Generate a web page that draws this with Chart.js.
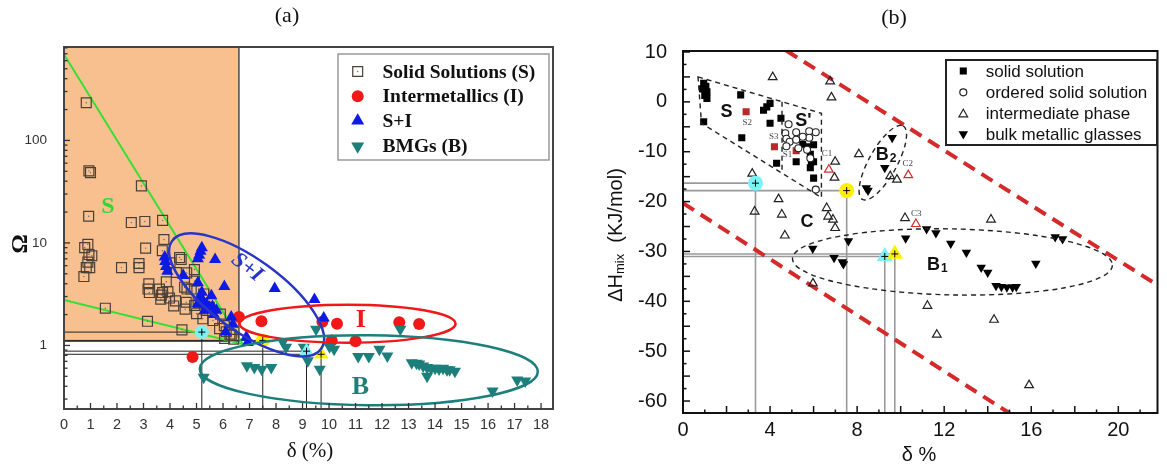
<!DOCTYPE html>
<html><head><meta charset="utf-8">
<script src="https://cdn.jsdelivr.net/npm/chart.js@4"></script>
<style>
body{margin:0;background:#fff;width:1167px;height:466px;overflow:hidden;position:relative}
canvas{position:absolute;top:0}
#ca{left:0}#cb{left:580px}
</style></head><body>
<canvas id="ca" width="580" height="466"></canvas>
<canvas id="cb" width="587" height="466"></canvas>
<script>
// ---------------- Panel (a) data ----------------
const aSolid = [[0.84,233],[0.94,50.5],[1.0,48.5],[2.92,36],[0.93,18.2],[2.54,15.8],[3.05,16.2],[3.72,16.6],[3.77,10.8],[3.08,8.9],[3.71,8.4],[4.36,7.2],[0.9,9.7],[0.78,9.0],[0.94,7.7],[1.05,7.5],[0.9,6.5],[0.97,5.75],[0.84,5.75],[0.75,4.7],[2.17,5.75],[2.83,6.3],[2.83,5.75],[1.56,2.31],[3.15,1.72],[4.45,1.42],[3.2,4.0],[3.17,3.55],[3.6,3.55],[3.67,3.1],[3.92,3.35],[3.98,2.9],[3.86,4.18],[4.55,3.7],[4.24,5.15],[4.61,2.64],[4.93,2.45],[5.0,2.04],[5.37,2.19],[5.24,1.82],[5.62,1.75],[5.87,1.46],[6.12,1.36],[6.06,1.17],[6.31,1.26],[4.42,6.9],[4.0,6.4],[4.92,5.5],[4.64,3.55],[4.21,2.72],[4.14,2.43],[4.57,2.26],[5.48,2.35],[5.9,2.02],[6.05,1.56],[6.26,1.29],[6.4,1.15],[3.72,3.28],[3.65,2.83],[3.22,3.28],[4.63,5.1],[4.92,4.25],[4.8,3.55],[5.27,3.18],[5.06,2.62]];
const aInter = [[6.6,1.9],[7.45,1.72],[9.75,1.7],[10.3,1.63],[12.65,1.68],[13.4,1.62],[10.1,1.12],[11.0,1.1],[4.85,0.77]];
const aSI = [[5.2,9.0],[5.15,8.3],[5.1,7.6],[5.05,7.0],[3.8,7.3],[3.82,6.6],[3.85,5.9],[3.9,5.3],[5.7,6.9],[4.5,4.8],[5.05,4.1],[6.05,3.75],[7.95,3.6],[9.45,2.8],[9.8,1.85],[5.12,2.96],[5.24,2.74],[5.37,2.55],[5.49,2.36],[5.05,2.55],[5.31,2.2],[5.56,3.06],[5.2,3.3],[5.6,2.4],[5.75,2.2],[6.31,1.89],[6.37,1.61],[6.1,1.35],[6.93,1.07],[5.65,2.0],[6.88,1.21]];
const aBMG = [[5.27,0.49],[6.9,0.635],[7.18,0.61],[7.46,0.585],[7.82,0.61],[8.26,1.08],[8.38,0.96],[9.05,0.96],[9.2,0.71],[9.51,1.44],[9.65,0.585],[10.19,0.92],[10.02,0.97],[11.1,0.78],[11.5,0.78],[11.9,0.92],[12.2,0.79],[12.69,1.44],[13.12,0.68],[13.3,0.67],[13.4,0.66],[13.55,0.63],[13.7,0.61],[13.85,0.6],[14.0,0.6],[14.15,0.59],[14.3,0.6],[14.45,0.58],[14.55,0.58],[14.75,0.56],[13.7,0.5],[16.17,0.36],[17.1,0.46],[17.4,0.45]];
const aHiCircle = [[5.2,1.35],[7.5,1.12]];
const aHiTriangle = [[9.15,0.88],[9.7,0.82]];
const aHiColors = ['#7DF2F5','#FFF000'];
const aGreenLine = [[0,690],[6.75,1.03],[0,2.78],[0,690]];
const aXTicks = [0,1,2,3,4,5,6,7,8,9,10,11,12,13,14,15,16,17,18];
const aYTicks = [1,10,100];
const aLegend = ['Solid Solutions (S)','Intermetallics (I)','S+I','BMGs (B)'];

// ---------------- Panel (b) data ----------------
const bSolid = [[0.95,3.7],[1.05,3.1],[0.9,2.6],[1.1,2.0],[1.0,1.3],[1.1,0.7],[0.95,-4.0],[2.65,1.4],[2.7,-7.2],[3.7,-1.7],[3.85,-1.0],[4.0,-0.3],[4.0,-4.3],[4.5,-3.3],[4.3,-12.3],[5.2,-12.0],[5.5,-8.5],[6.0,-8.6],[5.85,-10.5],[5.9,-12.0],[5.85,-13.2],[6.0,-15.3],[6.0,-12.0],[5.7,-9.0]];
const bSolidRed = [[2.9,-2.0],[4.2,-9.0],[5.2,-9.8]];
const bOrdered = [[4.85,-4.5],[4.7,-6.3],[5.2,-6.1],[4.75,-7.4],[4.9,-8.0],[5.2,-7.6],[5.8,-5.9],[6.1,-6.1],[5.8,-7.2],[5.7,-9.6],[5.85,-11.3],[6.1,-17.6],[4.75,-8.9],[5.3,-9.3],[5.5,-7.0]];
const bInter = [[4.12,4.96],[6.76,4.1],[6.82,0.9],[8.08,-10.5],[6.99,-12.0],[6.96,-15.2],[9.52,-14.9],[9.83,-15.6],[3.18,-14.4],[3.29,-22.0],[4.39,-19.5],[4.54,-22.6],[4.68,-26.8],[6.6,-21.3],[6.67,-23.0],[6.89,-23.6],[6.99,-25.3],[10.2,-23.3],[14.15,-23.6],[5.97,-36.4],[11.23,-40.9],[11.66,-46.7],[14.29,-43.7],[15.9,-56.8]];
const bInterRed = [[6.7,-13.6],[10.35,-14.7],[10.7,-24.5]];
const bBMG = [[9.61,-7.2],[9.27,-13.2],[8.42,-17.3],[8.5,-17.8],[5.96,-29.4],[6.94,-31.25],[7.32,-32.1],[7.37,-32.5],[7.6,-27.9],[10.23,-27.35],[11.19,-25.5],[11.62,-26.3],[12.3,-28.4],[13.02,-30.2],[13.7,-33.2],[14.0,-34.2],[14.38,-36.9],[14.63,-37.1],[14.88,-37.2],[15.14,-37.2],[15.31,-37.1],[16.21,-32.4],[17.1,-27.1],[17.44,-27.5]];
const bHiCircle = [[3.33,-16.3],[7.52,-17.8]];
const bHiTriangle = [[9.27,-31.0],[9.73,-30.5]];
const bHiColors = ['#7DF2F5','#FFF000'];
const bUpperLine = [[4.74,10.3],[22,-37.3]];
const bLowerLine = [[0,-20.3],[15.0,-62.45]];
const bXTicks = [0,4,8,12,16,20];
const bYTicks = [10,0,-10,-20,-30,-40,-50,-60];
const bLegend = ['solid solution','ordered solid solution','intermediate phase','bulk metallic glasses'];

const pts = a => a.map(([x,y]) => ({x,y}));
const SERIF = '"Liberation Serif", "DejaVu Serif", serif';
const SANS = '"Liberation Sans", Arial, sans-serif';
Chart.defaults.font.family = SANS;

// helpers
function P(chart, x, y){ return [chart.scales.x.getPixelForValue(x), chart.scales.y.getPixelForValue(y)]; }
function line(ctx,x1,y1,x2,y2){ ctx.beginPath(); ctx.moveTo(x1,y1); ctx.lineTo(x2,y2); ctx.stroke(); }
function text(ctx,s,x,y,font,color,align,base){ ctx.font=font; ctx.fillStyle=color; ctx.textAlign=align||'center'; ctx.textBaseline=base||'middle'; ctx.fillText(s,x,y); }
function marker(ctx, style, x, y, r, fill, stroke, lw){
  ctx.save(); ctx.beginPath();
  if(style==='rect'){ const s=Math.SQRT1_2*r; ctx.rect(x-s,y-s,2*s,2*s); }
  else if(style==='circle'){ ctx.arc(x,y,r,0,Math.PI*2); }
  else { const down = style==='down'; let a = down?Math.PI:0;
    for(let i=0;i<3;i++){ const px=x+Math.sin(a)*r, py=y-Math.cos(a)*r; i?ctx.lineTo(px,py):ctx.moveTo(px,py); a+=2*Math.PI/3; }
    ctx.closePath(); }
  if(fill){ ctx.fillStyle=fill; ctx.fill(); }
  if(stroke){ ctx.strokeStyle=stroke; ctx.lineWidth=lw||1; ctx.stroke(); }
  ctx.restore();
}

// ---------------- Chart A ----------------
const decorA = {
  id:'decorA',
  beforeDatasetsDraw(chart){
    const ctx=chart.ctx, a=chart.chartArea;
    const [bx,by]=P(chart,6.6,1.1);
    ctx.save();
    ctx.fillStyle='#F8C08F';
    ctx.fillRect(a.left,a.top,bx-a.left,by-a.top);
    ctx.strokeStyle='#555'; ctx.lineWidth=1.6;
    ctx.beginPath(); ctx.moveTo(bx,a.top); ctx.lineTo(bx,by); ctx.lineTo(a.left,by); ctx.stroke();
    ctx.strokeStyle='#222'; ctx.lineWidth=1;
    aHiCircle.concat(aHiTriangle).forEach(([x,y])=>{ const [X,Y]=P(chart,x,y); line(ctx,a.left,Y,X,Y); line(ctx,X,Y,X,a.bottom); });
    ctx.restore();
  },
  afterDatasetsDraw(chart){
    const ctx=chart.ctx, a=chart.chartArea;
    ctx.save();
    const ell=(cx,cy,rx,ry,rot,col)=>{ const [X,Y]=P(chart,cx,cy); ctx.strokeStyle=col; ctx.lineWidth=2.5; ctx.beginPath(); ctx.ellipse(X,Y,rx,ry,rot*Math.PI/180,0,Math.PI*2); ctx.stroke(); };
    ell(6.89,3.11,92,36,36,'#2836C8');
    ell(10.7,1.63,108,19,0,'#F01818');
    ell(11.5,0.574,169,35,0.5,'#1C7F7B');
    // region labels
    let [X,Y]=P(chart,1.66,22.6); text(ctx,'S',X,Y,'bold 24px '+SERIF,'#33D633');
    [X,Y]=P(chart,11.2,1.76); text(ctx,'I',X,Y,'bold 26px '+SERIF,'#F01818');
    [X,Y]=P(chart,11.18,0.39); text(ctx,'B',X,Y,'bold 26px '+SERIF,'#1C7F7B');
    [X,Y]=P(chart,6.9,5.74);
    ctx.save(); ctx.translate(X,Y); ctx.rotate(38*Math.PI/180); text(ctx,'S+I',0,0,'italic bold 22px '+SERIF,'#2836C8'); ctx.restore();
    // frame
    ctx.strokeStyle='#444'; ctx.lineWidth=2;
    ctx.strokeRect(a.left,a.top,a.right-a.left,a.bottom-a.top);
    // ticks
    ctx.strokeStyle='#333'; ctx.lineWidth=1.3;
    for(let v=0; v<=18.001; v+=0.5){ const x=chart.scales.x.getPixelForValue(v); const L=(Math.abs(v-Math.round(v))<1e-6)?6:3.5; if(v>0) line(ctx,x,a.bottom,x,a.bottom-L); }
    for(let d=-1; d<=2; d++){ for(let m=1;m<=9;m++){ const v=m*Math.pow(10,d); if(v<0.24||v>815) continue; const y=chart.scales.y.getPixelForValue(v); line(ctx,a.left,y,a.left+(m===1?6:3.5),y); } }
    // legend
    ctx.fillStyle='#fff'; ctx.fillRect(338,54,211,106);
    ctx.strokeStyle='#9a9a9a'; ctx.lineWidth=1.5; ctx.strokeRect(338,54,211,106);
    const ly=[71.5,96.3,120.8,146.3], lx=357.7;
    marker(ctx,'rect',lx,ly[0],7,null,'#4a4038',1.2); marker(ctx,'circle',lx,ly[0],0.7,'#666');
    marker(ctx,'circle',lx,ly[1],6,'#F01818');
    marker(ctx,'triangle',lx,ly[2],7.5,'#0D1AE6');
    marker(ctx,'down',lx,ly[3],7.5,'#1C7F7B');
    aLegend.forEach((s,i)=>text(ctx,s,382.5,ly[i]+1,'bold 19.5px '+SERIF,'#111','left'));
    // titles
    text(ctx,'(a)',287,16,'22px '+SERIF,'#111');
    text(ctx,'δ (%)',310,451,'21px '+SERIF,'#111');
    ctx.save(); ctx.translate(21,244); ctx.rotate(-Math.PI/2); text(ctx,'Ω',0,0,'bold 24px '+SERIF,'#111'); ctx.restore();
    ctx.restore();
  }
};

new Chart(document.getElementById('ca'), {
  type:'scatter',
  data:{datasets:[
    {data:pts(aHiCircle.concat(aHiTriangle)), pointStyle:'cross', pointRadius:3.5, borderColor:'#000', borderWidth:1},
    {data:pts(aHiTriangle), pointStyle:'triangle', pointRadius:8.5, backgroundColor:aHiColors, borderWidth:0},
    {data:pts(aHiCircle), pointStyle:'circle', pointRadius:7, backgroundColor:aHiColors, borderWidth:0},
    {data:pts(aBMG), pointStyle:'triangle', rotation:180, pointRadius:7, backgroundColor:'#1C7F7B', borderWidth:0},
    {data:pts(aSI), pointStyle:'triangle', pointRadius:7, backgroundColor:'#0D1AE6', borderWidth:0},
    {data:pts(aInter), pointStyle:'circle', pointRadius:6, backgroundColor:'#F01818', borderWidth:0},
    {data:pts(aSolid), pointStyle:'circle', pointRadius:0.7, backgroundColor:'#666', borderWidth:0},
    {data:pts(aSolid), pointStyle:'rect', pointRadius:7, backgroundColor:'rgba(0,0,0,0)', borderColor:'#4a4038', borderWidth:1.2},
    {data:pts(aGreenLine), showLine:true, pointRadius:0, borderColor:'#33E033', borderWidth:2, fill:false, tension:0}
  ]},
  options:{
    responsive:false, animation:false, events:[],
    layout:{padding:{top:47,right:27,left:0,bottom:0}},
    plugins:{legend:{display:false},tooltip:{enabled:false}},
    scales:{
      x:{type:'linear',min:0,max:18.45,grid:{display:false},border:{display:false},
         afterBuildTicks(s){s.ticks=aXTicks.map(v=>({value:v}));},
         afterFit(s){s.height=57;},
         ticks:{font:{size:14.5},color:'#333',padding:-1,maxRotation:0,autoSkip:false}},
      y:{type:'logarithmic',min:0.24,max:815,grid:{display:false},border:{display:false},
         afterBuildTicks(s){s.ticks=aYTicks.map(v=>({value:v}));},
         afterFit(s){s.width=64;},
         ticks:{font:{size:13.5},color:'#333',padding:9,autoSkip:false,callback:v=>String(v)}}
    }
  },
  plugins:[decorA]
});

// ---------------- Chart B ----------------
const decorB = {
  id:'decorB',
  beforeDatasetsDraw(chart){
    const ctx=chart.ctx, a=chart.chartArea;
    ctx.save();
    ctx.strokeStyle='#9a9a9a'; ctx.lineWidth=1.6;
    bHiCircle.concat(bHiTriangle).forEach(([x,y])=>{ const [X,Y]=P(chart,x,y); line(ctx,a.left,Y,X,Y); line(ctx,X,Y,X,a.bottom); });
    ctx.restore();
  },
  afterDatasetsDraw(chart){
    const ctx=chart.ctx, a=chart.chartArea;
    ctx.save();
    ctx.strokeStyle='#222'; ctx.lineWidth=1.4; ctx.setLineDash([5,4]);
    const poly=[[0.69,5.0],[6.36,-2.3],[6.36,-19.2],[0.85,-4.3]];
    ctx.beginPath(); poly.forEach(([x,y],i)=>{const [X,Y]=P(chart,x,y); i?ctx.lineTo(X,Y):ctx.moveTo(X,Y);}); ctx.closePath(); ctx.stroke();
    let [x1,y1]=P(chart,4.55,0.0), [x2,y2]=P(chart,4.55,-14.3); line(ctx,x1,y1,x2,y2);
    const ell=(cx,cy,rx,ry,rot)=>{ const [X,Y]=P(chart,cx,cy); ctx.beginPath(); ctx.ellipse(X,Y,rx,ry,rot*Math.PI/180,0,Math.PI*2); ctx.stroke(); };
    ell(12.38,-32.1,160,33,1.2);
    ell(9.18,-12.2,42,14,-61);
    ctx.setLineDash([]);
    // labels
    const lab=(s,x,y,font,col)=>{const [X,Y]=P(chart,x,y); text(ctx,s,X,Y,font,col||'#111');};
    lab('S',2.0,-2.0,'bold 18px '+SANS);
    lab("S'",5.53,-3.85,'bold 18px '+SANS);
    lab('C',5.7,-24.1,'bold 18px '+SANS);
    const sub=(b,n,x,y)=>{const [X,Y]=P(chart,x,y); ctx.font='bold 18px '+SANS; const w=ctx.measureText(b).width; text(ctx,b,X-4,Y,'bold 18px '+SANS,'#111','center'); text(ctx,n,X-4+w/2+1,Y+4,'bold 12px '+SANS,'#111','left');};
    sub('B','2',9.34,-10.6);
    sub('B','1',11.69,-32.7);
    const sm='9px '+SERIF;
    lab('S2',2.95,-4.1,sm,'#444'); lab('S3',4.17,-7.0,sm,'#444'); lab('S1',4.8,-10.6,sm,'#444');
    lab('C1',6.62,-10.4,sm,'#444'); lab('C2',10.33,-12.4,sm,'#444'); lab('C3',10.72,-22.4,sm,'#444');
    // frame
    ctx.strokeStyle='#111'; ctx.lineWidth=2;
    ctx.strokeRect(a.left,a.top,a.right-a.left,a.bottom-a.top);
    ctx.lineWidth=1.5;
    for(let v=1; v<=21; v++){ const x=chart.scales.x.getPixelForValue(v); line(ctx,x,a.bottom,x,a.bottom-(v%2===0?7:3.5)); }
    for(let v=-60; v<=10; v+=2.5){ const y=chart.scales.y.getPixelForValue(v); line(ctx,a.left,y,a.left+(v%5===0?7:3.5),y); }
    // legend
    ctx.fillStyle='#fff'; ctx.fillRect(366,60,211,85);
    ctx.strokeStyle='#222'; ctx.lineWidth=2; ctx.strokeRect(366,60,211,85);
    const ly=[71,92.3,113.3,134], lx=383.3;
    marker(ctx,'rect',lx,ly[0],5,'#000');
    marker(ctx,'circle',lx,ly[1],3.5,'#fff','#222',1.2);
    marker(ctx,'triangle',lx,ly[2]+1,5,null,'#222',1.2);
    marker(ctx,'down',lx,ly[3],5.5,'#000');
    bLegend.forEach((s,i)=>text(ctx,s,405.7,ly[i]+1,'17px '+SANS,'#111','left'));
    // titles
    text(ctx,'(b)',314,18,'22px '+SERIF,'#111');
    text(ctx,'δ %',339,455,'20px '+SANS,'#111');
    ctx.save(); ctx.translate(36,235); ctx.rotate(-Math.PI/2);
    ctx.font='20px '+SANS; const w1=ctx.measureText('ΔH').width; const w3=ctx.measureText('  (KJ/mol)').width;
    ctx.font='13px '+SANS; const w2=ctx.measureText('mix').width;
    let sx=-(w1+w2+w3)/2;
    text(ctx,'ΔH',sx,0,'20px '+SANS,'#111','left'); text(ctx,'mix',sx+w1,4,'13px '+SANS,'#111','left'); text(ctx,'  (KJ/mol)',sx+w1+w2,0,'20px '+SANS,'#111','left');
    ctx.restore();
    ctx.restore();
  }
};

new Chart(document.getElementById('cb'), {
  type:'scatter',
  data:{datasets:[
    {data:pts(bHiCircle.concat(bHiTriangle)), pointStyle:'cross', pointRadius:3.5, borderColor:'#000', borderWidth:1},
    {data:pts(bHiTriangle), pointStyle:'triangle', pointRadius:9.5, backgroundColor:bHiColors, borderWidth:0},
    {data:pts(bHiCircle), pointStyle:'circle', pointRadius:7.5, backgroundColor:bHiColors, borderWidth:0},
    {data:pts(bBMG), pointStyle:'triangle', rotation:180, pointRadius:5.5, backgroundColor:'#000', borderWidth:0},
    {data:pts(bInterRed), pointStyle:'triangle', pointRadius:5, backgroundColor:'rgba(0,0,0,0)', borderColor:'#D03030', borderWidth:1.2},
    {data:pts(bInter), pointStyle:'triangle', pointRadius:5, backgroundColor:'rgba(0,0,0,0)', borderColor:'#222', borderWidth:1.2},
    {data:pts(bOrdered), pointStyle:'circle', pointRadius:3.5, backgroundColor:'#fff', borderColor:'#222', borderWidth:1.1},
    {data:pts(bSolidRed), pointStyle:'rect', pointRadius:5, backgroundColor:'#B52A2A', borderWidth:0},
    {data:pts(bSolid), pointStyle:'rect', pointRadius:5, backgroundColor:'#000', borderWidth:0},
    {data:pts(bUpperLine), showLine:true, pointRadius:0, borderColor:'#D42A2A', borderWidth:4, borderDash:[13,8], fill:false},
    {data:pts(bLowerLine), showLine:true, pointRadius:0, borderColor:'#D42A2A', borderWidth:4, borderDash:[13,8], fill:false}
  ]},
  options:{
    responsive:false, animation:false, events:[],
    layout:{padding:{top:51,right:3,left:0,bottom:0}},
    plugins:{legend:{display:false},tooltip:{enabled:false}},
    scales:{
      x:{type:'linear',min:0,max:21.8,grid:{display:false},border:{display:false},
         afterBuildTicks(s){s.ticks=bXTicks.map(v=>({value:v}));},
         afterFit(s){s.height=53;},
         ticks:{font:{size:20},color:'#111',padding:-3,maxRotation:0,autoSkip:false}},
      y:{type:'linear',min:-62.4,max:10.2,grid:{display:false},border:{display:false},
         afterBuildTicks(s){s.ticks=bYTicks.map(v=>({value:v}));},
         afterFit(s){s.width=103;},
         ticks:{font:{size:20},color:'#111',padding:8,autoSkip:false}}
    }
  },
  plugins:[decorB]
});
</script>
</body></html>
